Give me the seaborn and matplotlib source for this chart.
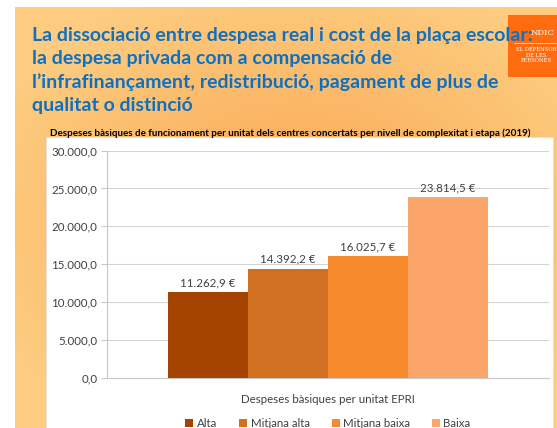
import numpy as np
import pandas as pd
import matplotlib
matplotlib.use('Agg')
import matplotlib.pyplot as plt
from matplotlib.patches import Rectangle, Patch
import seaborn as sns

# dades llegides del gràfic
nivells = ['Alta', 'Mitjana alta', 'Mitjana baixa', 'Baixa']
despeses = [11262.9, 14392.2, 16025.7, 23814.5]
categoria = 'Despeses bàsiques per unitat EPRI'
colors = ['#A54300', '#D27022', '#F78A2C', '#FCA56B']

titol = ['La dissociació entre despesa real i cost de la plaça escolar:',
         'la despesa privada com a compensació de',
         'l\u2019infrafinançament, redistribució, pagament de plus de',
         'qualitat o distinció']
subtitol = ('Despeses bàsiques de funcionament per unitat dels centres concertats '
            'per nivell de complexitat i etapa (2019)')


def fmt_cat(v, dec=1):
    s = f"{v:,.{dec}f}"
    return s.replace(',', 'X').replace('.', ',').replace('X', '.')


sns.set_theme(style='white')
plt.rcParams['font.family'] = ['Lato', 'DejaVu Sans']

df = pd.DataFrame({'grup': categoria, 'nivell': nivells, 'valor': despeses})

fig = plt.figure(figsize=(5.57, 4.28), dpi=100)

# fons de la diapositiva (en píxels)
bg = fig.add_axes([0, 0, 1, 1])
bg.set_xlim(0, 557)
bg.set_ylim(428, 0)
bg.axis('off')

yy, xx = np.mgrid[7:428, 15:557]
r = np.sqrt(((xx - 300) / 330.0) ** 2 + ((yy - 220) / 250.0) ** 2)
t = np.clip(r, 0, 1)[..., None]
c_mid = np.array([250, 166, 82]) / 255
c_edge = np.array([253, 204, 128]) / 255
grad = c_mid * (1 - t) + c_edge * t
bg.imshow(grad, extent=(15, 557, 428, 7), aspect='auto', zorder=0)

bg.add_patch(Rectangle((46, 137), 507, 291, facecolor='white', edgecolor='#E0E0E0',
                       lw=0.6, zorder=1))
bg.add_patch(Rectangle((508, 15), 49, 62, facecolor='#FF6C10', edgecolor='none', zorder=1))
bg.text(531, 33, 'NDIC', color='white', fontsize=6, ha='left', va='center',
        family=['DejaVu Serif'], zorder=2)
bg.plot([514, 557], [43, 43], color='white', lw=0.5, zorder=2)
bg.text(536, 55, 'EL DEFENSOR\nDE LES\nPERSONES', color='white', fontsize=3.8,
        ha='center', va='center', family=['DejaVu Serif'], linespacing=1.1, zorder=2)

for i, linia in enumerate(titol):
    bg.text(32, 41 + i * 23.3, linia, color='#1070C0', fontsize=14, fontweight='bold',
            ha='left', va='baseline', zorder=3)

bg.text(50, 133.5, subtitol, color='black', fontsize=7.15, fontweight='bold',
        ha='left', va='center', zorder=3)

# gràfic de barres
ax = fig.add_axes([107 / 557, 1 - 377.7 / 428, 442 / 557, 227.1 / 428])
ax.set_facecolor('white')
sns.barplot(data=df, x='grup', y='valor', hue='nivell', hue_order=nivells,
            palette=colors, width=0.724, gap=0, saturation=1, ax=ax, legend=False,
            linewidth=0, edgecolor='none', zorder=3)
ax.set_xlim(-0.5, 0.5)
ax.set_ylim(0, 30000)
ax.set_yticks(np.arange(0, 30001, 5000))
ax.yaxis.set_major_formatter(plt.FuncFormatter(lambda v, p: fmt_cat(v)))
ax.grid(axis='y', color='#D4D4D4', lw=0.8, zorder=0)
ax.set_axisbelow(True)
for s in ['top', 'right']:
    ax.spines[s].set_visible(False)
for s in ['left', 'bottom']:
    ax.spines[s].set_color('#C8C8C8')
    ax.spines[s].set_linewidth(0.8)
ax.tick_params(axis='y', left=True, length=4, color='#C8C8C8', width=0.8,
               labelsize=8.3, labelcolor='#404040', pad=3)
ax.tick_params(axis='x', length=0, labelsize=8.3, labelcolor='#404040', pad=12)
ax.set_xlabel('')
ax.set_ylabel('')

for cont, v in zip(ax.containers, despeses):
    ax.bar_label(cont, labels=[fmt_cat(v) + ' €'], padding=3, fontsize=8.3,
                 color='#404040')

handles = [Patch(facecolor=c, edgecolor='none') for c in colors]
ax.legend(handles, nivells, loc='center', bbox_to_anchor=(0.5, -0.2), ncol=4,
          frameon=False, fontsize=8.3, handlelength=0.7, handleheight=0.7,
          handletextpad=0.3, columnspacing=1.9, labelcolor='#404040')

fig.savefig('out.png', dpi=100)
